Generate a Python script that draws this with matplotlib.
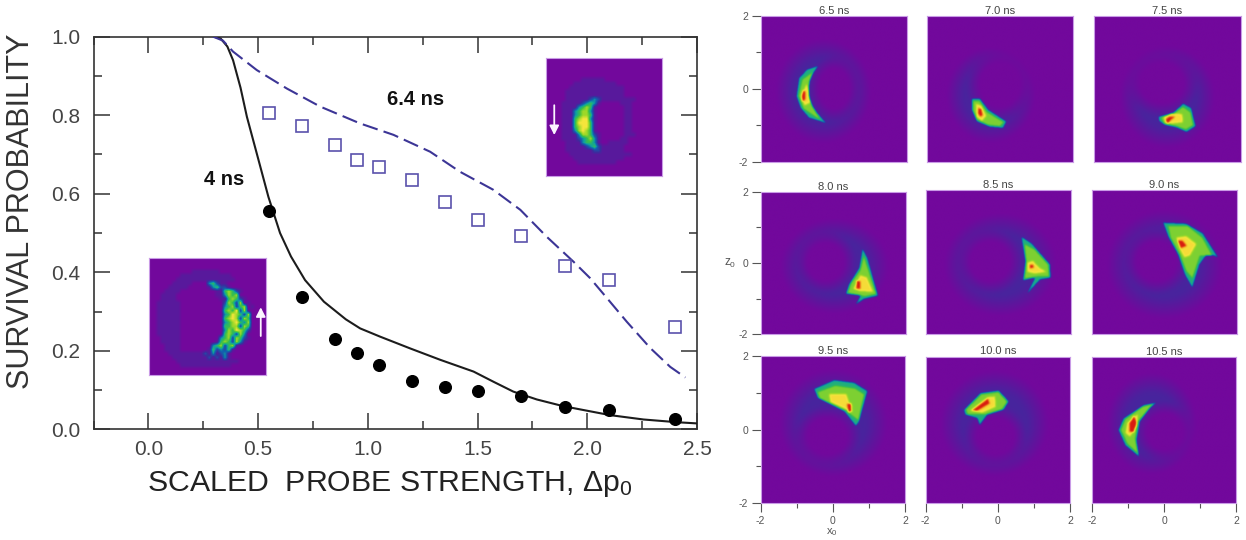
import numpy as np
import matplotlib
matplotlib.use("Agg")
import matplotlib.pyplot as plt
from matplotlib.colors import LinearSegmentedColormap
from matplotlib.path import Path
from matplotlib.ticker import MultipleLocator, FixedLocator

W, H = 1246, 540

# left plot
line_4ns_x = [0.30, 0.33, 0.36, 0.386, 0.42, 0.449, 0.50, 0.547, 0.60, 0.65, 0.714, 0.80, 0.90, 0.965, 1.056, 1.193,
              1.33, 1.482, 1.573, 1.663, 1.77, 1.89, 2.105, 2.256, 2.41, 2.50]
line_4ns_y = [1.0, 0.995, 0.975, 0.94, 0.87, 0.796, 0.69, 0.592, 0.50, 0.44, 0.38, 0.325, 0.28, 0.257, 0.236, 0.206,
              0.177, 0.147, 0.121, 0.096, 0.076, 0.059, 0.036, 0.025, 0.018, 0.015]
line_64ns_x = [0.295, 0.34, 0.386, 0.494, 0.631, 0.783, 0.965, 1.117, 1.284, 1.42, 1.572, 1.695, 1.816, 1.937,
               2.013, 2.09, 2.18, 2.287, 2.378, 2.447]
line_64ns_y = [1.0, 0.99, 0.962, 0.915, 0.868, 0.822, 0.779, 0.75, 0.707, 0.656, 0.61, 0.559, 0.49, 0.427,
               0.385, 0.334, 0.274, 0.207, 0.159, 0.132]
probe_x = [0.55, 0.70, 0.85, 0.95, 1.05, 1.20, 1.35, 1.50, 1.70, 1.90, 2.10, 2.40]
squares_y = [0.805, 0.772, 0.725, 0.685, 0.667, 0.635, 0.58, 0.533, 0.493, 0.415, 0.38, 0.26]
circles_y = [0.555, 0.337, 0.23, 0.195, 0.165, 0.124, 0.108, 0.097, 0.085, 0.058, 0.048, 0.027]

# inset speckle cells, 0 = background up to 6 = yellow
inset_4ns = [
    "",
    "",
    "",
    "000000000001111111",
    "000000001111111111111",
    "0000000111111111111111",
    "0000001111100003421100000",
    "000001111100000134221000000",
    "000011110000000001145421",
    "00011110000000000113545",
    "0001111000000000001145421",
    "00111111000000000002542501",
    "001111110000000000034524501",
    "00111111000000000004546251",
    "00111111000000000003465425",
    "00111111000000000004565254",
    "00111111000000000003456435",
    "00111111000000000004455254",
    "00111111000000000003546542",
    "0011111100000000000454253",
    "00011111000000000034525421",
    "00011111000000000145425310",
    "0000111100000000345245100",
    "00001111000000014232410",
    "000001111111112131231",
    "00000011111111121213100",
    "00000001111111111111111",
    "000000001111111111111",
]
inset_64ns = [
    "",
    "",
    "",
    "",
    "",
    "000000000111111",
    "0000000111111111110",
    "00000011111111111111",
    "0000011111111111111100",
    "00000111111111111111",
    "00000111111232111111111",
    "00001111123431000001110",
    "0000111134541000000011",
    "0000111345531000000011",
    "0000111345541000000011",
    "0000111456631000000011",
    "0000111466641000000011",
    "0000111456641000000011",
    "0000111356541000000011",
    "00001111355421000000111",
    "000011112345310000011",
    "000001111344310011111",
    "00000111112342111111",
    "00000111111122111111",
    "0000001111111111111111",
    "00000001111111111111",
    "000000001111111111",
]
cell_levels = [0.0, 0.07, 0.22, 0.38, 0.52, 0.68, 0.82]

# right panels
panel_times = ["6.5 ns", "7.0 ns", "7.5 ns", "8.0 ns", "8.5 ns", "9.0 ns", "9.5 ns", "10.0 ns", "10.5 ns"]

# cx, cz, rx, rz of the faint ring and of its hole
halo_outer = [(-0.30, -0.07, 1.30, 1.42), (-0.25, -0.18, 1.22, 1.30), (0.0, -0.23, 1.30, 1.39),
              (0.02, -0.10, 1.49, 1.33), (0.05, -0.07, 1.56, 1.43), (0.0, -0.07, 1.60, 1.51),
              (0.0, 0.18, 1.50, 1.46), (-0.11, 0.17, 1.50, 1.44), (-0.34, 0.18, 1.25, 1.39)]
halo_hole = [(0.0, 0.0, 0.42, 0.55), (0.0, 0.10, 0.55, 0.60), (-0.15, 0.15, 0.60, 0.55),
             (-0.23, 0.02, 0.50, 0.53), (-0.23, 0.02, 0.55, 0.55), (-0.22, 0.02, 0.55, 0.55),
             (-0.17, -0.19, 0.55, 0.50), (-0.08, -0.19, 0.52, 0.50), (0.03, -0.05, 0.50, 0.50)]

# outlines of the hot region, one list per colour band
edge_blue = [
    [(-.43, .63), (-.75, .52), (-.97, .29), (-1.04, -.21), (-.93, -.53), (-.70, -.80), (-.22, -.95), (-.47, -.66),
     (-.65, -.39), (-.75, -.12), (-.73, .2)],
    [(-.78, -.28), (-.55, -.28), (-.32, -.58), (.18, -.9), (.09, -1.08), (-.28, -1.05), (-.64, -.9), (-.78, -.58)],
    [(-.25, -.77), (.15, -.66), (.43, -.41), (.65, -.53), (.77, -1.03), (.52, -1.19), (.25, -1.07), (-.07, -1.0),
     (-.23, -.89)],
    [(.78, .40), (.92, .13), (1.21, -.93), (.83, -1.02), (.6, -1.17), (.73, -.93), (.32, -.88), (.41, -.61),
     (.69, -.15)],
    [(.63, .71), (.92, .52), (1.43, -.07), (1.44, -.44), (1.15, -.49), (.78, -.9), (1.01, -.44), (.67, -.52),
     (.74, .02)],
    [(-.04, 1.1), (.6, 1.07), (1.06, .8), (1.48, .13), (1.2, .25), (.97, -.07), (.77, -.72), (.56, -.35), (.38, .2),
     (.1, .71)],
    [(-.54, 1.11), (.02, 1.35), (.57, 1.28), (.94, 1.05), (.71, .21), (.62, .09), (.3, .49), (-.44, .86)],
    [(-.96, .54), (-.5, 1.0), (.01, 1.07), (.29, .77), (.15, .54), (-.31, .4), (-.52, .12), (-.59, .31), (-.92, .4)],
    [(-.2, .76), (-.57, .69), (-1.13, .32), (-1.27, 0), (-1.08, -.42), (-.69, -.74), (-.76, -.28), (-.67, .23),
     (-.39, .6)],
]
edge_green = [
    [(-.57, .46), (-.88, .25), (-.98, -.2), (-.85, -.55), (-.38, -.86), (-.58, -.52), (-.7, -.2), (-.68, .18)],
    [(-.74, -.34), (-.56, -.34), (-.36, -.64), (.1, -.92), (0, -1.03), (-.33, -.99), (-.64, -.85), (-.74, -.6)],
    [(-.18, -.78), (.15, -.7), (.42, -.5), (.63, -.65), (.7, -1.0), (.5, -1.12), (.22, -1.02), (-.1, -.96)],
    [(.82, .18), (1.16, -.88), (.85, -.95), (.38, -.85), (.47, -.58), (.72, -.22)],
    [(.72, .5), (1.0, .35), (1.38, -.08), (1.4, -.4), (1.12, -.4), (.72, -.46), (.77, .0)],
    [(.1, 1.0), (.65, 1.0), (1.05, .68), (1.32, .18), (.98, .18), (.77, -.45), (.6, -.25), (.42, .22), (.17, .68)],
    [(-.44, 1.02), (.05, 1.2), (.6, 1.12), (.85, .96), (.69, .25), (.33, .52), (-.38, .85)],
    [(-.9, .55), (-.47, .96), (.0, 1.02), (.24, .76), (.1, .55), (-.33, .42), (-.85, .41)],
    [(-.3, .72), (-.6, .64), (-1.08, .3), (-1.2, 0), (-1.02, -.38), (-.72, -.65), (-.8, -.24), (-.72, .24)],
]
edge_yellow = [
    [(-.76, .12), (-.9, -.2), (-.82, -.46), (-.66, -.38), (-.7, -.1)],
    [(-.66, -.42), (-.52, -.47), (-.38, -.75), (-.5, -.88), (-.64, -.77)],
    [(-.1, -.78), (.1, -.68), (.4, -.7), (.42, -.92), (.15, -.95), (-.05, -.94)],
    [(.72, -.36), (.9, -.42), (1.07, -.82), (.72, -.8), (.53, -.74)],
    [(.8, -.02), (.95, .03), (1.15, -.18), (1.32, -.27), (1.0, -.32), (.8, -.27)],
    [(.33, .68), (.6, .72), (.88, .5), (.7, .18), (.55, .13), (.43, .35)],
    [(-.12, .97), (.35, .97), (.52, .48), (.25, .6), (-.08, .75)],
    [(-.78, .52), (-.3, .88), (-.1, .9), (-.08, .62), (-.45, .46)],
    [(-.73, .43), (-1.02, .2), (-1.07, -.08), (-.95, -.18), (-.76, .1)],
]
edge_red = [
    [(-.85, -.03), (-.91, -.2), (-.88, -.36), (-.79, -.3), (-.79, -.1)],
    [(-.6, -.53), (-.51, -.56), (-.47, -.74), (-.55, -.77), (-.61, -.68)],
    [(-.06, -.85), (.05, -.76), (.22, -.76), (.1, -.86), (0, -.97)],
    [(.61, -.5), (.73, -.53), (.73, -.74), (.61, -.74)],
    [(.86, -.07), (.96, -.07), (.98, -.16), (.87, -.18)],
    [(.36, .6), (.5, .6), (.62, .45), (.45, .38)],
    [(.37, .7), (.49, .72), (.51, .5), (.41, .46)],
    [(-.74, .52), (-.29, .85), (-.24, .71), (-.6, .5)],
    [(-.84, .4), (-.96, .2), (-.96, -.05), (-.84, -.07), (-.75, .2)],
]
band_levels = [0.47, 0.64, 0.83, 1.0]

# panel boxes in image pixels: left, top, right, bottom
panel_boxes = [(760.7, 15.7, 907, 162), (927, 15.7, 1073, 162), (1094, 15.7, 1241, 162),
               (760.7, 191.7, 906, 334.3), (926, 190.3, 1071, 334.3), (1092, 190.3, 1237, 334.3),
               (760.7, 356, 905, 503), (925.7, 356.5, 1070, 503), (1092, 357, 1236, 503)]

density_cmap = LinearSegmentedColormap.from_list("density", [
    (0.0, "#72089c"), (0.14, "#3c2c9e"), (0.3, "#1262ae"), (0.42, "#10a49c"), (0.55, "#3cc048"),
    (0.68, "#9cd828"), (0.82, "#f6e63c"), (0.92, "#f08a20"), (1.0, "#d81c10")])


def px_axes(fig, box):
    left, top, right, bottom = box
    return fig.add_axes([left / W, 1 - bottom / H, (right - left) / W, (bottom - top) / H])


def smooth(field, sigma):
    n = int(3 * sigma)
    kernel = np.exp(-0.5 * (np.arange(-n, n + 1) / sigma) ** 2)
    kernel /= kernel.sum()
    field = np.pad(field, n, mode="edge")
    field = np.apply_along_axis(lambda row: np.convolve(row, kernel, mode="same"), 0, field)
    field = np.apply_along_axis(lambda row: np.convolve(row, kernel, mode="same"), 1, field)
    return field[n:-n, n:-n]


def panel_field(i):
    n = 320
    xs = np.linspace(-2, 2, n)
    xx, zz = np.meshgrid(xs, xs)
    cx, cz, rx, rz = halo_outer[i]
    outer = np.sqrt(((xx - cx) / rx) ** 2 + ((zz - cz) / rz) ** 2)
    cx, cz, rx, rz = halo_hole[i]
    hole = np.sqrt(((xx - cx) / rx) ** 2 + ((zz - cz) / rz) ** 2)
    ring = 0.11 * np.clip((1 - outer) / 0.4, 0, 1) * np.clip((hole - 1) / 0.7, 0, 1)

    band = np.zeros_like(xx)
    points = np.column_stack([xx.ravel(), zz.ravel()])
    for edges, level in zip([edge_blue, edge_green, edge_yellow, edge_red], band_levels):
        inside = Path(edges[i] + [edges[i][0]]).contains_points(points).reshape(xx.shape)
        band[inside] = level
    return np.maximum(smooth(ring, 4), smooth(band, 1.9))


def draw_panels(fig):
    for i, box in enumerate(panel_boxes):
        ax = px_axes(fig, box)
        ax.imshow(panel_field(i), origin="lower", extent=[-2, 2, -2, 2], cmap=density_cmap, vmin=0, vmax=1,
                  aspect="auto", interpolation="bilinear")
        ax.set_xlim(-2, 2)
        ax.set_ylim(-2, 2)
        ax.set_title(panel_times[i], fontsize=8, color="#444444", pad=1.5)
        for spine in ax.spines.values():
            spine.set_color("#c99be6")
            spine.set_linewidth(0.8)
        ax.xaxis.set_major_locator(FixedLocator([-2, 0, 2]))
        ax.xaxis.set_minor_locator(FixedLocator([-1, 1]))
        ax.yaxis.set_major_locator(FixedLocator([-2, 0, 2]))
        ax.yaxis.set_minor_locator(FixedLocator([-1, 1]))
        ax.tick_params(which="major", length=6.5, width=0.8, color="#555555", labelsize=7.5, labelcolor="#555555", pad=2.5)
        ax.tick_params(which="minor", length=3.5, width=0.8, color="#555555")
        ax.tick_params(which="both", left=i % 3 == 0, labelleft=i % 3 == 0, bottom=i >= 6, labelbottom=i >= 6)
    fig.text(832 / W, 1 - 532 / H, "x$_0$", fontsize=8, color="#555555", ha="center", va="center")
    fig.text(730 / W, 1 - 263 / H, "z$_0$", fontsize=8.5, color="#555555", ha="center", va="center")


def draw_inset(fig, box, rows, arrow_x, tail_y, tip_y):
    ax = px_axes(fig, box)
    rows = rows + [""] * (30 - len(rows))
    cells = np.array([[cell_levels[int(c)] for c in row.ljust(30, "0")] for row in rows])
    ax.imshow(cells, cmap=density_cmap, vmin=0, vmax=1, aspect="auto", interpolation="bilinear")
    ax.set_xticks([])
    ax.set_yticks([])
    for spine in ax.spines.values():
        spine.set_color("#c99be6")
        spine.set_linewidth(0.8)
    ax.annotate("", xy=(arrow_x, tip_y), xytext=(arrow_x, tail_y), xycoords="axes fraction",
                arrowprops=dict(arrowstyle="-|>,head_width=0.28,head_length=0.55", color="#fbf4ff", lw=1.3,
                                shrinkA=0, shrinkB=0))


def main():
    plt.rcParams["font.family"] = ["Liberation Sans", "DejaVu Sans"]
    plt.rcParams["mathtext.fontset"] = "custom"
    plt.rcParams["mathtext.rm"] = "Liberation Sans"
    plt.rcParams["mathtext.it"] = "Liberation Sans"
    plt.rcParams["axes.unicode_minus"] = False

    fig = plt.figure(figsize=(W / 100, H / 100), dpi=100)
    ax = px_axes(fig, (93.5, 36.7, 697, 429.3))
    ax.plot(line_4ns_x, line_4ns_y, color="#1c1c1c", lw=1.5, zorder=3)
    ax.plot(line_64ns_x, line_64ns_y, color="#3c3596", lw=1.5, dashes=(7.5, 3), zorder=3)
    ax.plot(probe_x, squares_y, ls="none", marker="s", ms=8.2, mfc="none", mec="#5a52ac", mew=1.2, zorder=4)
    ax.plot(probe_x, circles_y, ls="none", marker="o", ms=8.4, color="black", zorder=4)
    ax.set_xlim(-0.25, 2.5)
    ax.set_ylim(0, 1)
    ax.xaxis.set_major_locator(MultipleLocator(0.5))
    ax.xaxis.set_minor_locator(MultipleLocator(0.25))
    ax.yaxis.set_major_locator(MultipleLocator(0.2))
    ax.yaxis.set_minor_locator(MultipleLocator(0.1))
    ax.tick_params(which="both", direction="in", top=True, right=True, color="#333333", width=1.1)
    ax.tick_params(which="major", length=11.5, labelsize=15, labelcolor="#444444", pad=7.5)
    ax.tick_params(which="minor", length=6)
    ax.tick_params(axis="y", which="major", pad=9.5)
    for spine in ax.spines.values():
        spine.set_linewidth(1.2)
        spine.set_color("#333333")

    fig.text(415.5 / W, 1 - 99.5 / H, "6.4 ns", fontsize=14.5, fontweight="bold", color="#111111", ha="center", va="center")
    fig.text(224.5 / W, 1 - 179.5 / H, "4 ns", fontsize=14.5, fontweight="bold", color="#111111", ha="center", va="center")
    fig.text(147 / W, 1 - 484 / H, r"SCALED  PROBE STRENGTH, $\mathrm{\Delta p_0}$", fontsize=21.8, color="#222222",
             ha="left", va="center")
    fig.text(21 / W, 1 - 211 / H, "SURVIVAL PROBABILITY", fontsize=22, color="#333333", rotation=90,
             ha="center", va="center")

    draw_inset(fig, (149.3, 258.3, 266, 375), inset_4ns, 0.955, 0.334, 0.58)
    draw_inset(fig, (546, 58.3, 662.3, 175.6), inset_64ns, 0.071, 0.60, 0.346)
    draw_panels(fig)
    fig.savefig("out.png", dpi=100)


if __name__ == '__main__':
    main()
